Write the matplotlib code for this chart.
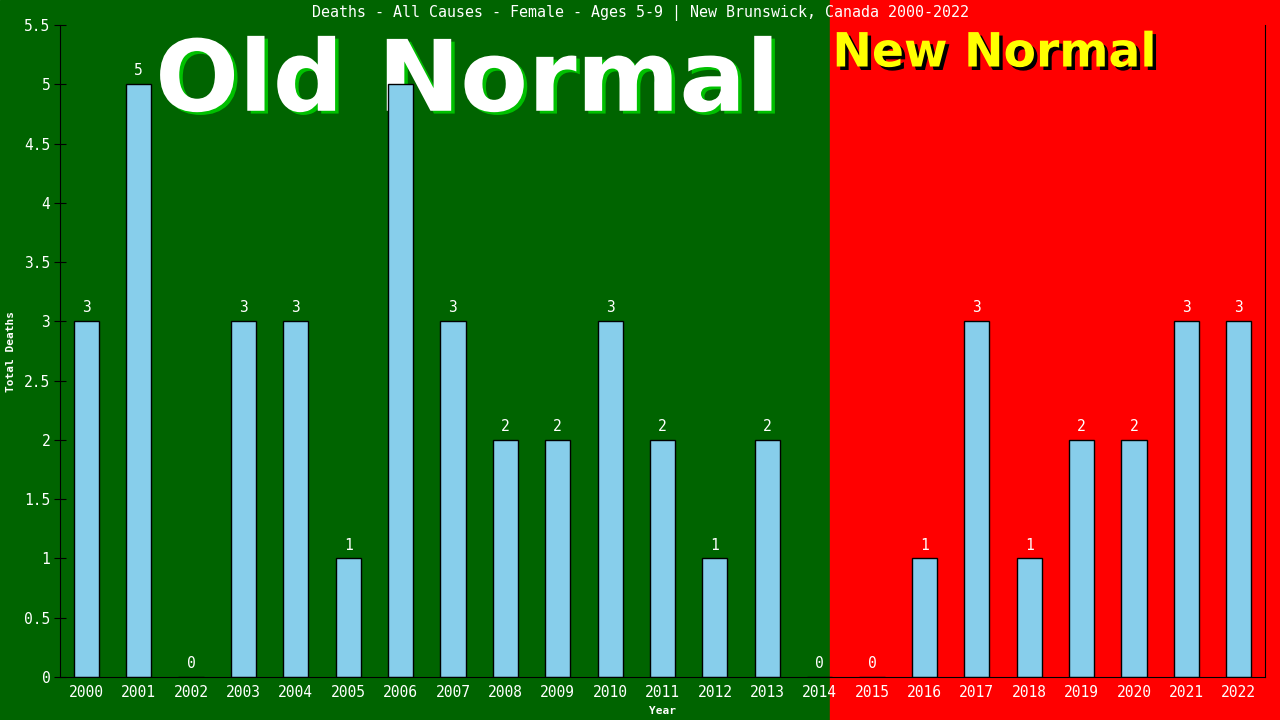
import matplotlib.pyplot as plt
import matplotlib.patheffects as pe
from matplotlib.patches import Rectangle

years = [str(y) for y in range(2000, 2023)]
deaths = [3, 5, 0, 3, 3, 1, 5, 3, 2, 2, 3, 2, 1, 2, 0, 0, 1, 3, 1, 2, 2, 3, 3]
yticks = [0, 0.5, 1, 1.5, 2, 2.5, 3, 3.5, 4, 4.5, 5, 5.5]
ytick_labels = ['0', '0.5', '1', '1.5', '2', '2.5', '3', '3.5', '4', '4.5', '5', '5.5']

mono = 'DejaVu Sans Mono'
fig = plt.figure(figsize=(12.8, 7.2), dpi=100)

# background split: old normal (green) / new normal (red)
split = 830 / 1280
fig.patches.append(Rectangle((0, 0), split, 1, transform=fig.transFigure,
                             color='#006400', zorder=-10))
fig.patches.append(Rectangle((split, 0), 1 - split, 1, transform=fig.transFigure,
                             color='#ff0000', zorder=-10))

ax = fig.add_axes([60 / 1280, 43 / 720, 1205 / 1280, 652 / 720])
ax.set_facecolor('none')

# big labels behind the bars
ax.text(0.338, 0.985, 'Old Normal', transform=ax.transAxes, ha='center', va='top',
        fontsize=71, fontweight='bold', color='white', family='DejaVu Sans', zorder=0,
        path_effects=[pe.withSimplePatchShadow(offset=(2.5, -2), shadow_rgbFace='#00c000', alpha=1)])
ax.text(0.641, 0.99, 'New Normal', transform=ax.transAxes, ha='left', va='top',
        fontsize=34, fontweight='bold', color='yellow', family='DejaVu Sans', zorder=0,
        path_effects=[pe.withSimplePatchShadow(offset=(2.5, -2.5), shadow_rgbFace='black', alpha=1)])

x = range(len(years))
bars = ax.bar(x, deaths, width=0.48, color='#87ceeb', edgecolor='black', linewidth=1, zorder=2)
for xi, v in zip(x, deaths):
    ax.text(xi, v + 0.05, str(v), ha='center', va='bottom', color='white',
            family=mono, fontsize=10.5, zorder=5)

ax.set_xlim(-0.5, len(years) - 0.5)
ax.set_ylim(0, 5.5)
ax.set_xticks(list(x))
ax.set_xticklabels(years, color='white', family=mono, fontsize=10.5)
ax.set_yticks(yticks)
ax.set_yticklabels(ytick_labels, color='white', family=mono, fontsize=10.5)
ax.tick_params(axis='x', length=0, pad=6)
ax.tick_params(axis='y', direction='inout', length=8, color='black', pad=3)

for s in ['left', 'bottom', 'right']:
    ax.spines[s].set_color('black')
ax.spines['top'].set_visible(False)

ax.set_xlabel('Year', color='white', family=mono, fontsize=8, fontweight='bold', labelpad=4)
ax.set_ylabel('Total Deaths', color='white', family=mono, fontsize=8, fontweight='bold', labelpad=6)

fig.text(0.5, 1 - 13 / 720, 'Deaths - All Causes - Female - Ages 5-9 | New Brunswick, Canada 2000-2022',
         ha='center', va='center', color='white', family=mono, fontsize=10.8)

fig.savefig('out.png', dpi=100)
